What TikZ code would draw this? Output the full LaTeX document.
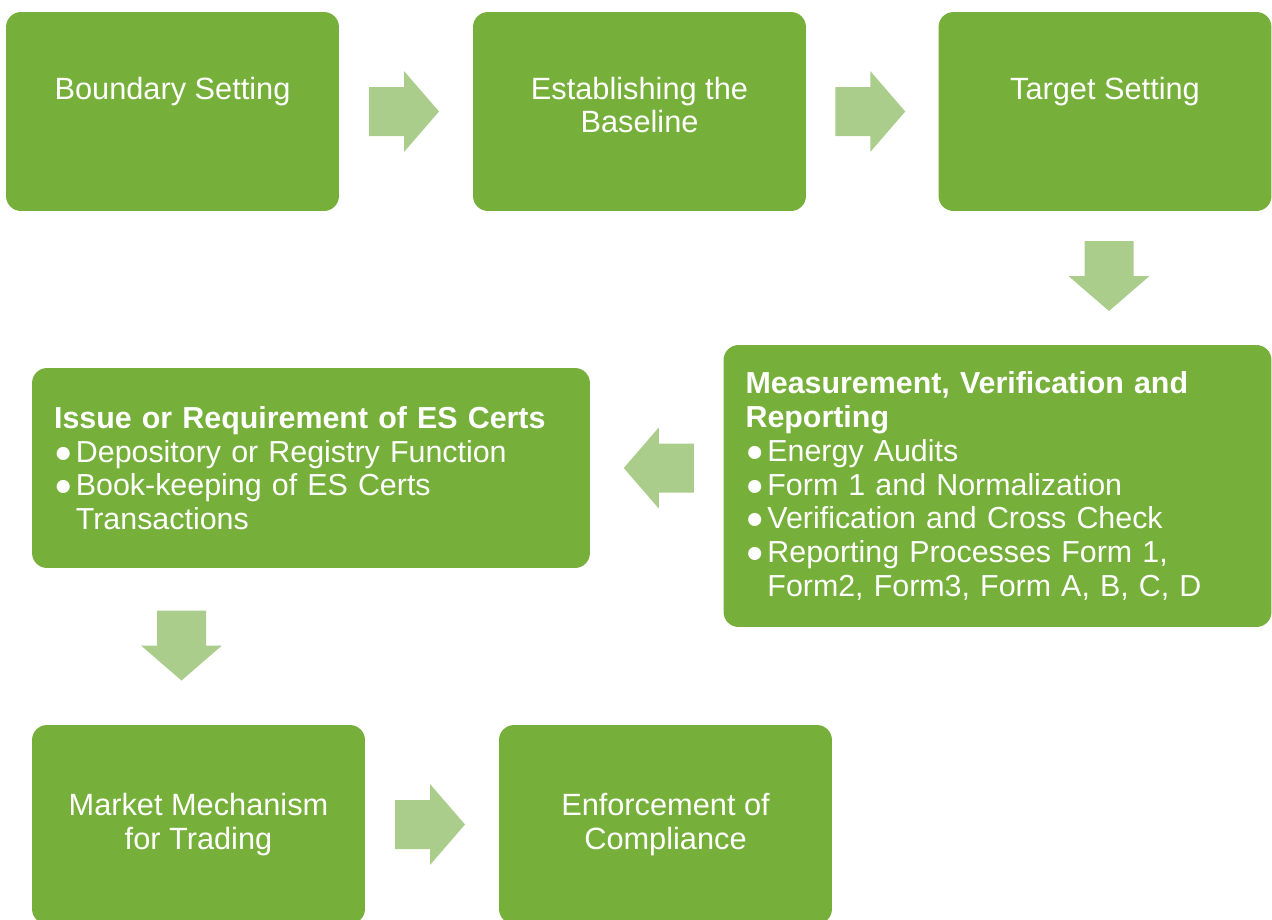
\documentclass[tikz,border=0pt]{standalone}
\usepackage{fontspec}
\setmainfont{Liberation Sans}
\usetikzlibrary{calc}

\definecolor{boxgreen}{HTML}{76B03B}
\definecolor{arrowgreen}{HTML}{ABCD8C}

\tikzset{
  stage/.style={fill=boxgreen, rounded corners=0.3cm, minimum width=6.66cm, minimum height=3.98cm, inner sep=0pt},
  stagetext/.style={text=white, align=center, inner sep=0pt, font=\fontsize{17.5}{19}\selectfont},
  listbox/.style={fill=boxgreen, rounded corners=0.3cm, text=white, align=left, inner xsep=0.44cm, inner ysep=0pt, font=\fontsize{17.3}{19.2}\selectfont},
  blockarrow/.style={fill=arrowgreen}
}
\newcommand{\bul}{●\hspace{2pt}}

\begin{document}
\begin{tikzpicture}[x=0.02cm, y=-0.02cm]
\useasboundingbox (0,0) rectangle (1272,920);

% top row
\node[stage] (bound) at (172.5,111.5) {};
\node[stage] (base) at (639.5,111.5) {};
\node[stage] (target) at (1105,111.5) {};
\node[stagetext, anchor=north] (boundt) at ($(bound.north)+(0,65)$) {Boundary Setting};
\node[stagetext, anchor=north] (baset) at ($(base.north)+(0,65)$) {Establishing the\\Baseline};
\node[stagetext, anchor=north] (targett) at ($(target.north)+(0,65)$) {Target Setting};

% middle row
\node[listbox, text width=10.08cm, minimum height=5.64cm] (mvr) at (997.5,486) {%
  \textbf{Measurement, Verification and}\\
  \textbf{Reporting}\\
  \bul Energy Audits\\
  \bul Form 1 and Normalization\\
  \bul Verification and Cross Check\\
  \bul Reporting Processes Form 1,\\
  \phantom{\bul}Form2, Form3, Form A, B, C, D};
\node[listbox, text width=10.28cm, minimum height=4cm] (issue) at (311,468) {%
  \textbf{Issue or Requirement of ES Certs}\\
  \bul Depository or Registry Function\\
  \bul Book-keeping of ES Certs\\
  \phantom{\bul}Transactions};

% bottom row
\node[stage, text=white, align=center, font=\fontsize{17.5}{19}\selectfont] (market) at (198.5,824.5) {Market Mechanism\\for Trading};
\node[stage, text=white, align=center, font=\fontsize{17.5}{19}\selectfont] (enforce) at (665.5,824.5) {Enforcement of\\Compliance};

% block arrows
\fill[blockarrow, shift={($(bound.east)!0.5!(base.west)+(-2,0)$)}]
  (-35,-24.5) -- (0,-24.5) -- (0,-40.5) -- (35,0) -- (0,40.5) -- (0,24.5) -- (-35,24.5) -- cycle;
\fill[blockarrow, shift={($(base.east)!0.5!(target.west)+(-2,0)$)}]
  (-35,-24.5) -- (0,-24.5) -- (0,-40.5) -- (35,0) -- (0,40.5) -- (0,24.5) -- (-35,24.5) -- cycle;
\fill[blockarrow, shift={($(target.south)!0.5!(target.south |- mvr.north)+(4,-2)$)}, rotate=-90]
  (-35,-24.5) -- (0,-24.5) -- (0,-40.5) -- (35,0) -- (0,40.5) -- (0,24.5) -- (-35,24.5) -- cycle;
\fill[blockarrow, shift={($(issue.east)!0.5!(issue.east -| mvr.west)+(2,0)$)}, rotate=180]
  (-35,-24.5) -- (0,-24.5) -- (0,-40.5) -- (35,0) -- (0,40.5) -- (0,24.5) -- (-35,24.5) -- cycle;
\fill[blockarrow, shift={($(market.north |- issue.south)!0.5!(market.north)+(-17,-1)$)}, rotate=-90]
  (-35,-24.5) -- (0,-24.5) -- (0,-40.5) -- (35,0) -- (0,40.5) -- (0,24.5) -- (-35,24.5) -- cycle;
\fill[blockarrow, shift={($(market.east)!0.5!(enforce.west)+(-2,0)$)}]
  (-35,-24.5) -- (0,-24.5) -- (0,-40.5) -- (35,0) -- (0,40.5) -- (0,24.5) -- (-35,24.5) -- cycle;
\end{tikzpicture}
\end{document}
